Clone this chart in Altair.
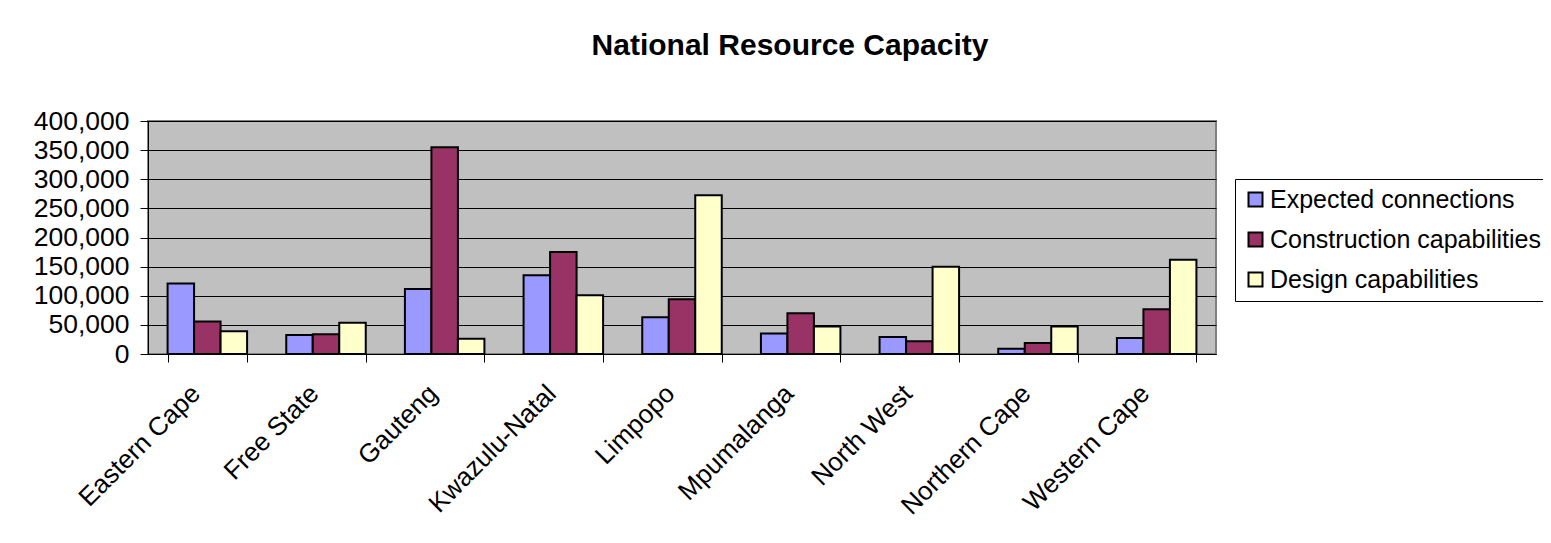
import altair as alt
import pandas as pd

provinces = ["Eastern Cape", "Free State", "Gauteng", "Kwazulu-Natal", "Limpopo",
             "Mpumalanga", "North West", "Northern Cape", "Western Cape"]
series = ["Expected connections", "Construction capabilities", "Design capabilities"]
expected = [121000, 32600, 111400, 135000, 63000, 35400, 29000, 9000, 27400]
construction = [56000, 33700, 355000, 175000, 94000, 70000, 21700, 19000, 77000]
design = [38900, 53700, 26000, 101000, 272600, 47400, 150000, 47400, 162000]
colors = ["#9999FF", "#993366", "#FFFFCC"]
y_ticks = [0, 50000, 100000, 150000, 200000, 250000, 300000, 350000, 400000]

rows = []
for i, p in enumerate(provinces):
    for s, vals in zip(series, [expected, construction, design]):
        rows.append({"Province": p, "Series": s, "Value": vals[i]})
df = pd.DataFrame(rows)

FONT = "Liberation Sans"

chart = alt.Chart(df).mark_bar(stroke="black", strokeWidth=2).encode(
    x=alt.X("Province:N", sort=provinces, title=None,
            scale=alt.Scale(paddingInner=0.33, paddingOuter=0.165),
            axis=alt.Axis(labelAngle=-45, labelFontSize=26, labelFont=FONT, labelColor="black",
                          tickBand="extent", tickSize=8, tickColor="black", domainColor="black",
                          labelPadding=18, labelOffset=-21, grid=False)),
    xOffset=alt.XOffset("Series:N", sort=series, scale=alt.Scale(paddingInner=0, paddingOuter=0)),
    y=alt.Y("Value:Q", title=None,
            scale=alt.Scale(domain=[0, 400000], nice=False),
            axis=alt.Axis(values=y_ticks, format=",d", labelFontSize=26.5, labelFont=FONT,
                          labelColor="black", tickSize=8, tickColor="black", domainColor="black",
                          labelPadding=11, grid=True, gridColor="black", gridWidth=1)),
    color=alt.Color("Series:N", sort=series,
                    scale=alt.Scale(domain=series, range=colors),
                    legend=alt.Legend(title=None, orient="none", legendX=1087, legendY=58,
                                      labelFontSize=25, labelFont=FONT, labelColor="black",
                                      labelLimit=500,
                                      symbolType="square", symbolSize=196, symbolStrokeColor="black",
                                      symbolStrokeWidth=2, symbolOpacity=1,
                                      strokeColor="black", fillColor="white", padding=8,
                                      rowPadding=14, labelOffset=2)),
).properties(
    width=1068, height=233,
    title=alt.TitleParams("National Resource Capacity", fontSize=30, font=FONT, fontWeight="bold",
                          color="black", anchor="middle", frame="group", dx=108, offset=47),
    autosize=alt.AutoSizeParams(type="none"),
    padding={"left": 140, "top": 113, "right": 327, "bottom": 180},
    background="white",
).configure_view(
    fill="#C0C0C0", stroke="#808080", strokeWidth=2
)

chart.save("out.html", embed_options={"renderer": "svg", "actions": False})
